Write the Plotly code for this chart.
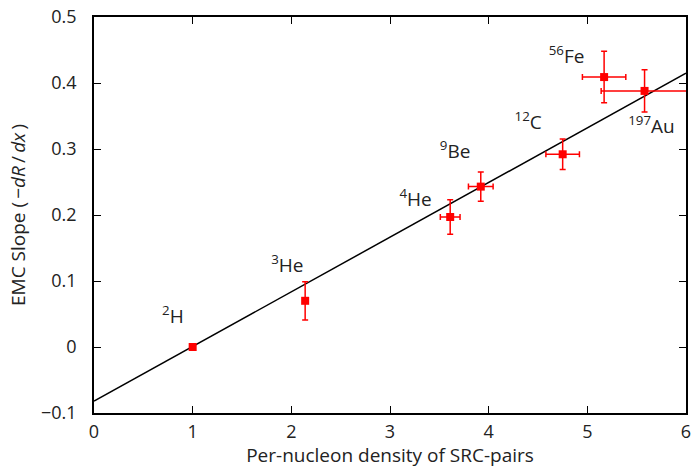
import plotly.graph_objects as go

nuclei = ["<sup>2</sup>H", "<sup>3</sup>He", "<sup>4</sup>He", "<sup>9</sup>Be",
          "<sup>12</sup>C", "<sup>56</sup>Fe", "<sup>197</sup>Au"]
density = [1.0, 2.14, 3.61, 3.92, 4.75, 5.17, 5.58]
density_err = [0.0, 0.0, 0.10, 0.125, 0.17, 0.22, 0.44]
slope = [0.0, 0.070, 0.197, 0.243, 0.292, 0.409, 0.388]
slope_err = [0.0, 0.029, 0.026, 0.022, 0.023, 0.039, 0.032]

label_x = [0.80, 1.96, 3.26, 3.66, 4.40, 4.79, 5.65]
label_y = [0.044, 0.121, 0.221, 0.294, 0.338, 0.438, 0.332]

fit_intercept = -0.082
fit_slope = 0.0828
fit_x = [0.0, 6.0]
fit_y = [fit_intercept + fit_slope * v for v in fit_x]

xticks = [0, 1, 2, 3, 4, 5, 6]
yticks = [-0.1, 0, 0.1, 0.2, 0.3, 0.4, 0.5]
yticktext = ["\u22120.1", "0", "0.1", "0.2", "0.3", "0.4", "0.5"]

font_family = "'Open Sans', 'DejaVu Sans', sans-serif"
text_color = "#222222"

fig = go.Figure()
fig.add_trace(go.Scatter(x=fit_x, y=fit_y, mode="lines",
                         line=dict(color="black", width=1.5), showlegend=False,
                         hoverinfo="skip"))
fig.add_trace(go.Scatter(
    x=density, y=slope, mode="markers",
    marker=dict(symbol="square", size=8, color="red"),
    error_x=dict(type="data", array=density_err, color="red", thickness=1.5, width=3),
    error_y=dict(type="data", array=slope_err, color="red", thickness=1.5, width=3),
    showlegend=False))
fig.add_trace(go.Scatter(
    x=label_x, y=label_y, mode="text", text=nuclei,
    textfont=dict(size=19, color=text_color, family=font_family),
    showlegend=False, hoverinfo="skip"))

axis_common = dict(showline=True, linecolor="black", linewidth=1.5, mirror="allticks",
                   ticks="inside", ticklen=7, tickwidth=1, tickcolor="black",
                   showgrid=False, zeroline=False, automargin=False,
                   tickfont=dict(size=18, color=text_color, family=font_family))

fig.update_layout(
    width=693, height=468,
    margin=dict(l=94, r=7, t=17, b=55),
    plot_bgcolor="white", paper_bgcolor="white",
    font=dict(family=font_family, color=text_color, size=18),
    xaxis=dict(range=[0, 6], tickvals=xticks, ticklabelstandoff=2,
               title=dict(text="Per-nucleon density of SRC-pairs",
                          font=dict(size=19, family=font_family, color=text_color), standoff=2),
               **axis_common),
    yaxis=dict(range=[-0.1, 0.5], tickvals=yticks, ticktext=yticktext, ticklabelstandoff=12,
               title=dict(text="EMC Slope (\u2009\u2212<i>dR</i>\u2009/\u2009<i>dx</i>\u2009)",
                          font=dict(size=19, family=font_family, color=text_color), standoff=10),
               **axis_common),
)

fig.write_html("out.html")
